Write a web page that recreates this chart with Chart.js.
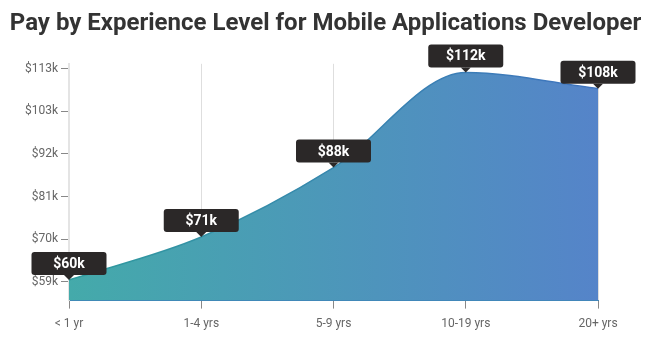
<!DOCTYPE html>
<html>
<head>
<meta charset="utf-8">
<script src="https://cdn.jsdelivr.net/npm/chart.js@4/dist/chart.umd.min.js"></script>
<style>
  body { margin: 0; background: #fff; }
  #wrap { width: 651px; height: 350px; }
</style>
</head>
<body>
<div id="wrap"><canvas id="paychart" width="651" height="350"></canvas></div>
<script>
// experience levels and median pay (in $k)
var levels = ['< 1 yr', '1-4 yrs', '5-9 yrs', '10-19 yrs', '20+ yrs'];
var pay = [59.8, 70.7, 88.3, 112.4, 108.3];

// y axis ticks (in $k) and their labels
var yTickValues = [59.35, 70.15, 80.95, 91.75, 102.55, 113.35];
var yTickLabels = ['$59k', '$70k', '$81k', '$92k', '$103k', '$113k'];

// dark bubbles over every point
var bubblePlugin = {
    id: 'bubbles',
    afterDatasetsDraw: function(chart) {
        var ctx = chart.ctx;
        var meta = chart.getDatasetMeta(0);
        ctx.save();
        meta.data.forEach(function(pt, i) {
            var x = pt.x, y = pt.y;
            var w = 75, h = 23, caret = 5;
            var bottom = y - caret;
            var top = bottom - h;
            var left = x - w / 2;
            ctx.fillStyle = '#2b2828';
            ctx.beginPath();
            ctx.roundRect(left, top, w, h, 3);
            ctx.fill();
            ctx.beginPath();
            ctx.moveTo(x - 5, bottom);
            ctx.lineTo(x, bottom + caret);
            ctx.lineTo(x + 5, bottom);
            ctx.closePath();
            ctx.fill();
            ctx.fillStyle = '#ffffff';
            ctx.font = 'bold 14px Roboto';
            ctx.textAlign = 'center';
            ctx.textBaseline = 'middle';
            ctx.fillText('$' + Math.round(pay[i]) + 'k', x, top + h / 2 + 1);
        });
        ctx.restore();
    }
};

function areaGradient(context) {
    var chart = context.chart;
    var area = chart.chartArea;
    if (!area) return '#4aa0b0';
    var g = chart.ctx.createLinearGradient(area.left, 0, area.right, 0);
    g.addColorStop(0, '#44aaaa');
    g.addColorStop(1, '#5584c9');
    return g;
}

function lineGradient(context) {
    var chart = context.chart;
    var area = chart.chartArea;
    if (!area) return '#3a8db4';
    var g = chart.ctx.createLinearGradient(area.left, 0, area.right, 0);
    g.addColorStop(0, '#2f9b9d');
    g.addColorStop(1, '#3f73bf');
    return g;
}

var chart = new Chart(document.getElementById('paychart').getContext('2d'), {
    type: 'line',
    data: {
        labels: levels,
        datasets: [{
            label: 'Pay',
            data: pay,
            fill: 'start',
            backgroundColor: areaGradient,
            borderColor: lineGradient,
            borderWidth: 1.5,
            cubicInterpolationMode: 'monotone',
            pointRadius: 0
        }]
    },
    options: {
        responsive: false,
        animation: false,
        layout: {
            padding: { left: 0, right: 0, top: 0, bottom: 11 }
        },
        plugins: {
            legend: { display: false },
            tooltip: { enabled: false },
            title: {
                display: true,
                text: 'Pay by Experience Level for Mobile Applications Developer',
                color: '#333333',
                font: { family: 'Roboto', size: 24, weight: 'bold' },
                padding: { top: 10, bottom: 25 }
            }
        },
        scales: {
            x: {
                z: 1,
                offset: false,
                grid: {
                    display: true,
                    drawOnChartArea: true,
                    color: 'rgba(0,0,0,0.13)',
                    tickColor: '#888888',
                    tickLength: 8
                },
                border: { display: true, color: '#3f86b8' },
                ticks: {
                    color: '#666666',
                    font: { family: 'Roboto', size: 12 },
                    padding: 8,
                    maxRotation: 0
                }
            },
            y: {
                min: 54.6,
                max: 114.6,
                afterFit: function(scale) { scale.width = 69; },
                afterBuildTicks: function(scale) {
                    scale.ticks = yTickValues.map(function(v) { return { value: v }; });
                },
                grid: {
                    drawOnChartArea: false,
                    tickColor: '#888888',
                    tickLength: 8
                },
                border: { display: true, color: '#e4e4e4', width: 2 },
                ticks: {
                    color: '#666666',
                    font: { family: 'Roboto', size: 12 },
                    padding: 3,
                    callback: function(value, index) { return yTickLabels[index]; }
                }
            },
            // empty axis on the right, only to keep the plot's right margin
            yRight: {
                position: 'right',
                min: 54.6,
                max: 114.6,
                afterFit: function(scale) { scale.width = 53; },
                grid: { display: false },
                border: { display: false },
                ticks: { display: false }
            }
        }
    },
    plugins: [bubblePlugin]
});
</script>
</body>
</html>
